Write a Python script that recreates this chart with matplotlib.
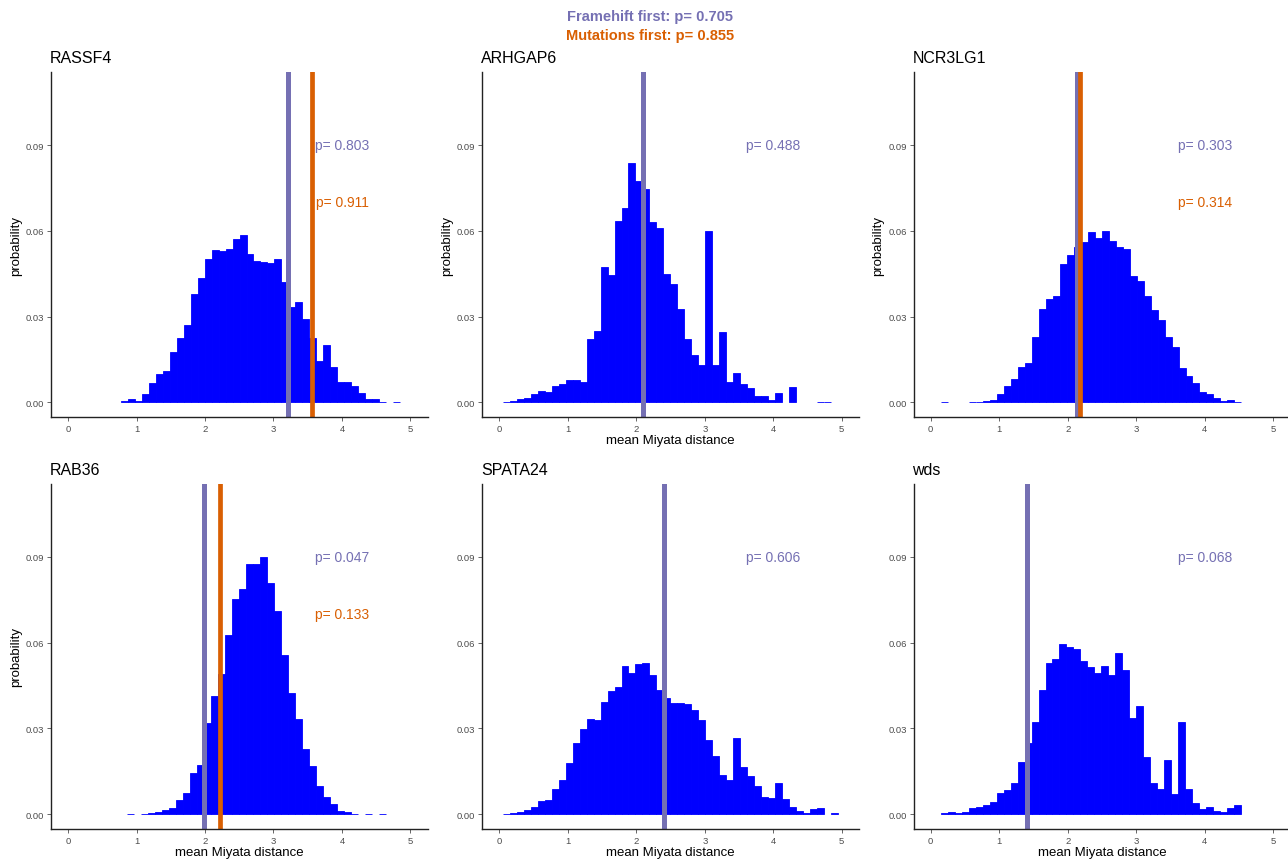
import matplotlib
matplotlib.use("Agg")
import matplotlib.pyplot as plt
import numpy as np

plt.rcParams['font.family'] = ['Liberation Sans', 'DejaVu Sans']

genes = ["RASSF4", "ARHGAP6", "NCR3LG1", "RAB36", "SPATA24", "wds"]

# histogram heights (probability per bin), bin width ~0.102
bin_width = 0.102
bin_start = [0.77, 0.05, 0.15, 0.866, 0.05, 0.146]

rassf4 = [0.0005, 0.001, 0.0006, 0.003, 0.0067, 0.010, 0.011, 0.0177, 0.0224, 0.027,
          0.038, 0.0434, 0.050, 0.0534, 0.053, 0.0537, 0.057, 0.0586, 0.052, 0.0495,
          0.049, 0.0486, 0.050, 0.042, 0.0335, 0.035, 0.029, 0.0224, 0.0145, 0.020,
          0.0122, 0.007, 0.007, 0.0058, 0.0033, 0.0012, 0.0012, 0.0002, 0.0, 0.0002]
arhgap6 = [0.0002, 0.0005, 0.001, 0.0014, 0.003, 0.0038, 0.0035, 0.0056, 0.0063, 0.0079,
           0.0079, 0.007, 0.0221, 0.0248, 0.0473, 0.0444, 0.0633, 0.068, 0.0837, 0.0774,
           0.0747, 0.063, 0.061, 0.045, 0.0415, 0.0328, 0.0221, 0.0165, 0.0131, 0.060,
           0.0129, 0.0247, 0.007, 0.0102, 0.0064, 0.005, 0.0023, 0.0023, 0.0009, 0.0031,
           0.0, 0.0052, 0.0, 0.0, 0.0, 0.0001, 0.0001]
ncr3lg1 = [0.0001, 0.0, 0.0, 0.0,
           0.0001, 0.0002, 0.0005, 0.0008, 0.0029, 0.0056, 0.008, 0.0123, 0.0137, 0.0227,
           0.0328, 0.036, 0.0372, 0.0485, 0.0515, 0.0543, 0.056, 0.0597, 0.0576, 0.06,
           0.0565, 0.0544, 0.0535, 0.0442, 0.0423, 0.0372, 0.0323, 0.0288, 0.0227, 0.0194,
           0.0119, 0.0093, 0.0067, 0.0037, 0.0029, 0.0015, 0.0006, 0.0008, 0.0001]
rab36 = [0.0001, 0.0, 0.0001, 0.0002, 0.0006, 0.0013, 0.0022, 0.005, 0.0073, 0.0145,
         0.0171, 0.0317, 0.0413, 0.049, 0.0628, 0.0752, 0.0787, 0.0876, 0.0876, 0.0901,
         0.0808, 0.0709, 0.0556, 0.0422, 0.0334, 0.0227, 0.0169, 0.0099, 0.0058, 0.0035,
         0.0012, 0.0006, 0.0001, 0.0, 0.0001, 0.0, 0.0001]
spata24 = [0.0001, 0.0002, 0.0006, 0.0014, 0.0023, 0.0047, 0.005, 0.0087, 0.0119, 0.0178,
           0.0248, 0.0297, 0.0331, 0.0329, 0.0392, 0.043, 0.0445, 0.0517, 0.0494, 0.0526,
           0.0527, 0.0488, 0.0433, 0.0407, 0.0387, 0.0387, 0.0384, 0.0363, 0.0328, 0.026,
           0.0203, 0.0137, 0.012, 0.0265, 0.0165, 0.0134, 0.0099, 0.0058, 0.0057, 0.0108,
           0.0052, 0.0026, 0.0012, 0.0002, 0.0017, 0.002, 0.0, 0.0002]
wds = [0.0005, 0.0008, 0.0005, 0.0006, 0.002, 0.0023, 0.0031, 0.0041, 0.0073, 0.0083,
       0.0108, 0.0183, 0.025, 0.0322, 0.0434, 0.0527, 0.0541, 0.0595, 0.0585, 0.0576,
       0.0537, 0.0515, 0.0494, 0.0519, 0.0486, 0.0562, 0.0503, 0.0335, 0.0378, 0.0201,
       0.011, 0.0087, 0.0188, 0.0069, 0.0323, 0.0087, 0.004, 0.0016, 0.0023, 0.0012,
       0.0008, 0.002, 0.0031]
heights = [rassf4, arhgap6, ncr3lg1, rab36, spata24, wds]

# observed means (vertical lines) and p-values; None = not shown
frameshift_x = [3.21, 2.10, 2.13, 1.98, 2.40, 1.41]
mutation_x = [3.56, None, 2.18, 2.22, None, None]
frameshift_p = ["0.803", "0.488", "0.303", "0.047", "0.606", "0.068"]
mutation_p = ["0.911", None, "0.314", "0.133", None, None]

overall_frameshift_p = "0.705"
overall_mutation_p = "0.855"

purple = "#7570B3"
orange = "#D95F02"

W, H = 1288, 862
fig = plt.figure(figsize=(W / 100, H / 100), dpi=100)

col_left = [50.9, 482.2, 913.6]
row_bottom = [418.2, 829.9]
ax_w, ax_h = 376.7, 345.0

show_ylabel = [True, True, True, True, False, False]
show_xlabel = [False, True, False, True, True, True]

for i, gene in enumerate(genes):
    r, c = divmod(i, 3)
    ax = fig.add_axes([col_left[c] / W, 1 - row_bottom[r] / H, ax_w / W, ax_h / H])
    h = np.array(heights[i])
    left = bin_start[i] + bin_width * np.arange(len(h))
    keep = h > 0
    ax.bar(left[keep], h[keep], width=bin_width, align="edge",
           color="blue", edgecolor="blue", linewidth=0.6)

    ax.axvline(frameshift_x[i], color=purple, linewidth=3.6)
    ax.text(4.0, 0.09, "p= " + frameshift_p[i], color=purple, fontsize=10,
            ha="center", va="center")
    if mutation_x[i] is not None:
        ax.axvline(mutation_x[i], color=orange, linewidth=3.4)
        ax.text(4.0, 0.07, "p= " + mutation_p[i], color=orange, fontsize=10,
                ha="center", va="center")

    ax.set_xlim(-0.25, 5.25)
    ax.set_ylim(-0.0052, 0.1155)
    ax.set_xticks([0, 1, 2, 3, 4, 5])
    ax.set_yticks([0, 0.03, 0.06, 0.09])
    ax.set_yticklabels(["0.00", "0.03", "0.06", "0.09"])
    ax.tick_params(labelsize=6.8, colors="#4D4D4D", length=3, width=0.6, pad=2)
    for s in ["top", "right"]:
        ax.spines[s].set_visible(False)
    for s in ["left", "bottom"]:
        ax.spines[s].set_color("#222222")
        ax.spines[s].set_linewidth(1.0)

    ax.set_title(gene, loc="left", fontsize=11.5, pad=7, x=-0.003)
    if show_ylabel[i]:
        ax.set_ylabel("probability", fontsize=9.5)
        ax.yaxis.set_label_coords(-0.077, 0.5)
    if show_xlabel[i]:
        ax.set_xlabel("mean Miyata distance", fontsize=9.5)
        ax.xaxis.set_label_coords(0.5, -0.05)

fig.text(0.505, 1 - 17 / H, "Framehift first: p= " + overall_frameshift_p, color=purple,
         fontsize=10.5, fontweight="bold", ha="center", va="center")
fig.text(0.505, 1 - 36 / H, "Mutations first: p= " + overall_mutation_p, color=orange,
         fontsize=10.5, fontweight="bold", ha="center", va="center")

fig.savefig("out.png", dpi=100)
